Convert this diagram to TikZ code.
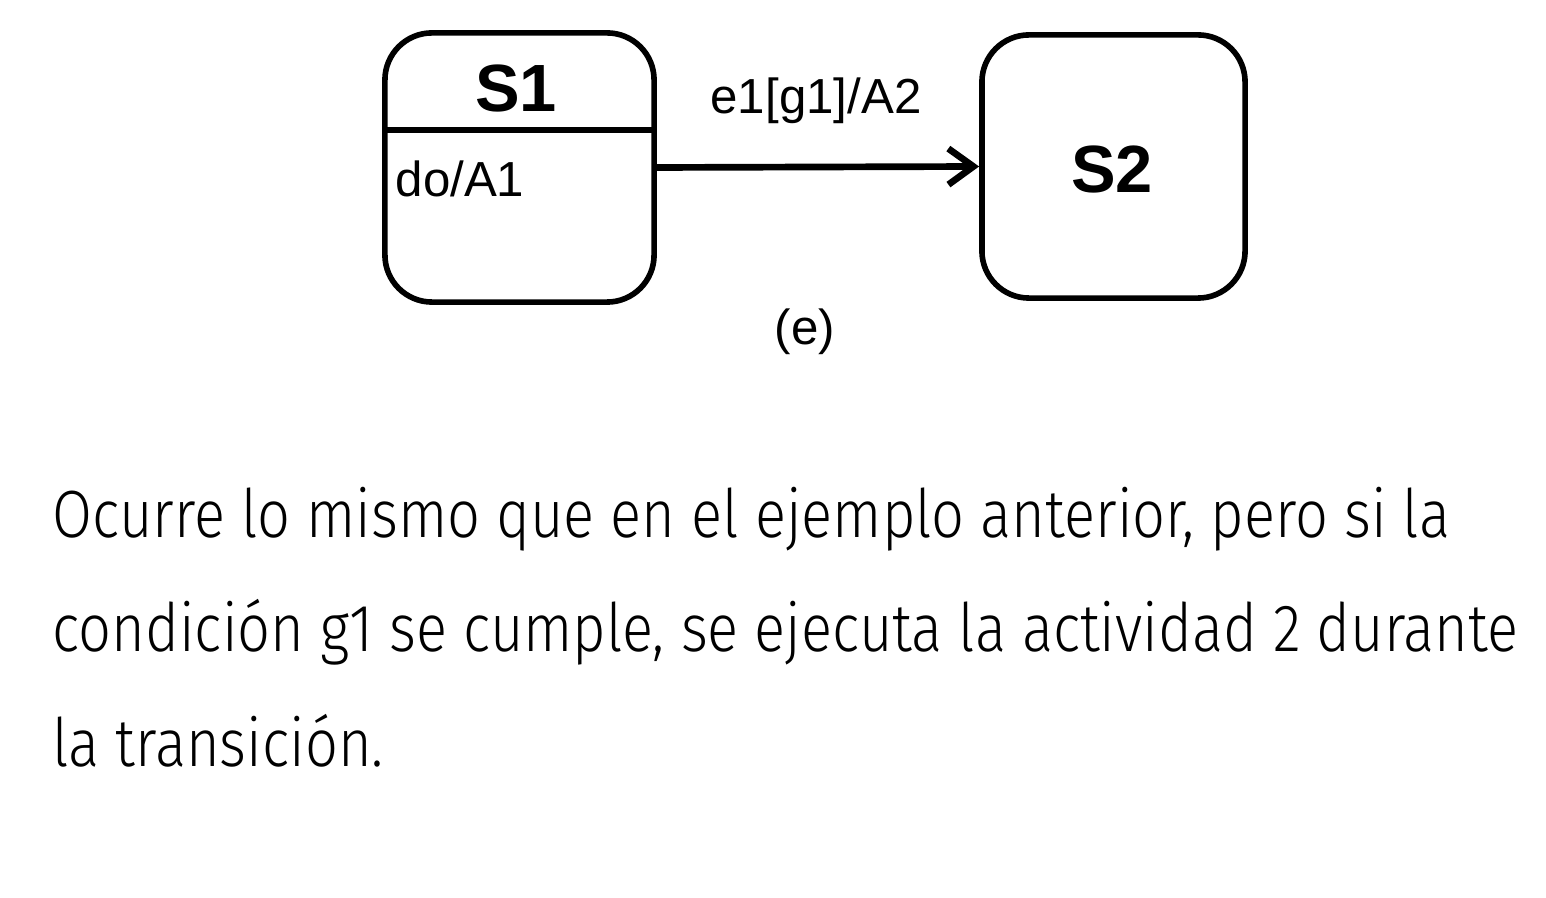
\documentclass[tikz,border=0pt]{standalone}
\usepackage{fontspec}
\setmainfont{Fira Sans Light}[FakeStretch=0.865]
\newfontfamily\diagfont{Liberation Sans}
\usetikzlibrary{arrows.meta}

\begin{document}
\begin{tikzpicture}[x=0.01cm,y=-0.01cm,
    state/.style={draw,line width=1.6pt,rounded corners=0.47cm,inner sep=0pt},
    statename/.style={font=\diagfont\bfseries\fontsize{19}{22}\selectfont,inner sep=0pt,anchor=base},
    lbl/.style={font=\diagfont\fontsize{14}{16}\selectfont,inner sep=0pt},
    prose/.style={font=\fontsize{19}{22}\selectfont,inner sep=0pt,anchor=base west}]
    \useasboundingbox (0,0) rectangle (1546,898);

    \node[state,minimum width=2.69cm,minimum height=2.69cm] (s1) at (519.5,167.5) {};
    \node[state,minimum width=2.63cm,minimum height=2.63cm] (s2) at (1113.5,166.5) {};
    \node[statename] (s1name) at (516,112) {S1};
    \node[statename] (s2name) at (1112,193) {S2};
    \node[lbl,anchor=base west] (do) at (395,197) {do/A1};
    \node[lbl,anchor=base] (trans) at (816,114) {e1[g1]/A2};
    \node[lbl,anchor=base] (caption) at (805,345) {(e)};

    \draw[line width=1.6pt] (s1.west |- 0,130) -- (s1.east |- 0,130);
    \draw[line width=1.9pt,-{Straight Barb[length=0.25cm,width=0.36cm]}] (s1.east) -- (s2.west);

    \node[prose] (line1) at (52,538) {Ocurre lo mismo que en el ejemplo anterior, pero si la};
    \node[prose] (line2) at (52,652) {condición g1 se cumple, se ejecuta la actividad 2 durante};
    \node[prose] (line3) at (52,767) {la transición.};
\end{tikzpicture}
\end{document}
